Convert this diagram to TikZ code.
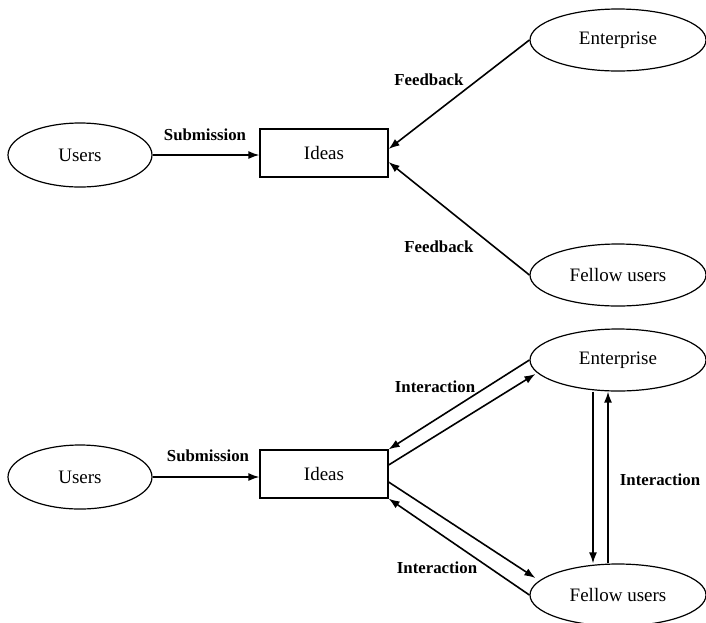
\documentclass[tikz,border=0pt]{standalone}
\usepackage{fontspec}
\setmainfont{Liberation Serif}
\usetikzlibrary{arrows.meta,shapes.geometric}

\begin{document}
\begin{tikzpicture}[x=1pt,y=-1pt,
    actor/.style={draw, ellipse, line width=1.2pt, inner sep=0pt,
        minimum width=144pt, minimum height=64pt,
        font=\fontsize{19}{21}\selectfont},
    wide/.style={actor, minimum width=176pt, minimum height=62pt},
    box/.style={draw, rectangle, line width=1.2pt, inner sep=0pt,
        minimum width=128pt, minimum height=48pt,
        font=\fontsize{19}{21}\selectfont},
    flow/.style={line width=1.6pt, -{Latex[length=11pt,width=8pt]}},
    lbl/.style={font=\bfseries\fontsize{16.8}{18}\selectfont}]
    \useasboundingbox (0,0) rectangle (706,622);

    % Top: feedback
    \node[actor] (users1) at (80,155) {Users};
    \node[box] (ideas1) at (324,153) {Ideas};
    \node[wide] (ent1) at (618,40) {Enterprise};
    \node[wide] (fel1) at (618,275) {Fellow users};

    \draw[flow] (users1.east) -- (users1.east -| ideas1.west);
    \draw[flow] (ent1.west) -- ([yshift=4pt]ideas1.east);
    \draw[flow] (fel1.west) -- ([yshift=-9pt]ideas1.east);

    \node[lbl] at (205,135) {Submission};
    \node[lbl] at (429,80) {Feedback};
    \node[lbl] at (439,247) {Feedback};

    % Bottom: interaction
    \node[actor] (users2) at (80,477) {Users};
    \node[box] (ideas2) at (324,474) {Ideas};
    \node[wide] (ent2) at (618,360) {Enterprise};
    \node[wide] (fel2) at (618,595) {Fellow users};

    \draw[flow] (users2.east) -- (users2.east -| ideas2.west);
    \draw[flow] (ent2.west) -- (ideas2.north east);
    \draw[flow] ([yshift=9pt]ideas2.east) -- ([shift={(6pt,-14pt)}]ent2.west);
    \draw[flow] ([yshift=-8pt]ideas2.east) -- ([shift={(6pt,17pt)}]fel2.west);
    \draw[flow] (fel2.west) -- (ideas2.south east);
    \draw[flow] ([xshift=-25pt]ent2.south) -- ([xshift=-25pt]fel2.north);
    \draw[flow] ([xshift=-10pt]fel2.north) -- ([xshift=-10pt]ent2.south);

    \node[lbl] at (208,456) {Submission};
    \node[lbl] at (435,387) {Interaction};
    \node[lbl] at (437,568) {Interaction};
    \node[lbl] at (660,480) {Interaction};
\end{tikzpicture}
\end{document}
